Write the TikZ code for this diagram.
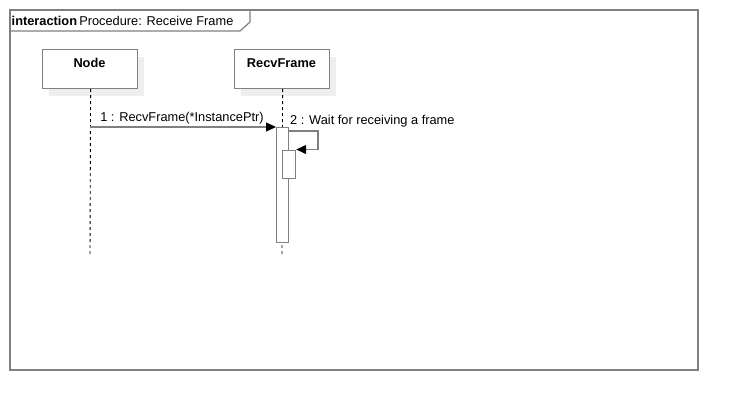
\documentclass[tikz,border=0pt]{standalone}
\usepackage{fontspec}
\setmainfont{Liberation Sans}
\usetikzlibrary{arrows.meta}
\definecolor{linegray}{HTML}{808080}
\definecolor{shadowgray}{HTML}{EEEEEE}
\begin{document}
\begin{tikzpicture}[x=1pt,y=-1pt,
  every node/.style={font=\fontsize{12.8}{15}\selectfont},
  lifebox/.style={draw=linegray,line width=1.2pt,fill=white,minimum width=95pt,minimum height=39pt,anchor=north west,inner sep=0pt},
  shadowbox/.style={fill=shadowgray,minimum width=95pt,minimum height=39pt,anchor=north west,inner sep=0pt},
  lifeline/.style={black,dash pattern=on 3pt off 3pt,line width=0.9pt},
  actbar/.style={draw=linegray,line width=1.2pt,fill=white,anchor=north west,inner sep=0pt,minimum width=12pt},
  msg/.style={linegray,line width=1.2pt,-{Triangle[length=10pt,width=9pt,color=black]}},
  frameline/.style={draw=linegray,line width=1.2pt}
]
\useasboundingbox (0,0) rectangle (738,410);
% frame
\draw[frameline] (10,10) rectangle (698,370);
\draw[frameline] (10,31) -- (240,31) -- (250,22) -- (250,10);
\node[anchor=base west,inner sep=0pt] (title) at (11.5,25) {\textbf{interaction}\,Procedure: Receive Frame};
% shadows
\node[shadowbox] (nodeshadow) at (49,57) {};
\node[shadowbox] (recvshadow) at (241,57) {};
% lifelines
\coordinate (nodeend) at (90,255);
\coordinate (recvend) at (282,255);
\node[lifebox] (node) at (42,49) {};
\node[anchor=base,inner sep=0pt] (nodelabel) at (89.5,67) {\bfseries Node};
\node[lifebox] (recv) at (234,49) {};
\node[anchor=base,inner sep=0pt] (recvlabel) at (281.5,67) {\bfseries RecvFrame};
\draw[lifeline] (node.south) ++(0.5,0) -- (nodeend);
\draw[lifeline] (recv.south) ++(0.5,0) -- (recvend);
% activations
\node[actbar,minimum height=115pt] (act1) at (276,127) {};
\node[actbar,minimum height=28pt,minimum width=13pt] (act2) at (282,150) {};
% messages
\draw[msg] (90,127) -- (act1.north west);
\node[anchor=base,inner sep=0pt] (m1) at (182,121) {1 : RecvFrame(*InstancePtr)};
\draw[msg] (act1.north east) ++(0,4) -- (318,131) -- (318,149.5) -- (act2.north east |- 0,149.5);
\node[anchor=base west,inner sep=0pt] (m2) at (290,124) {2 : Wait for receiving a frame};
\end{tikzpicture}
\end{document}
